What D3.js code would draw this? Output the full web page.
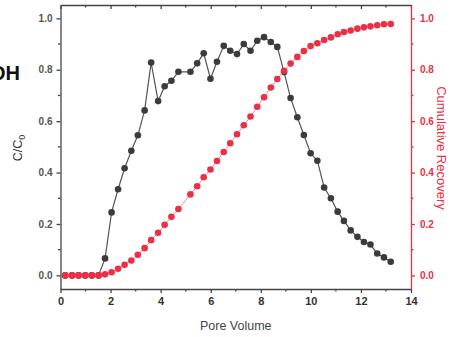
<!DOCTYPE html>
<html>
<head>
<meta charset="utf-8">
<script src="https://cdn.jsdelivr.net/npm/d3@7"></script>
<style>
  html, body { margin: 0; padding: 0; background: #fff; }
  svg { display: block; }
</style>
</head>
<body>
<script>
// Pore volumes at which samples were taken
const poreVolume = [0.19,0.46,0.72,0.99,1.25,1.52,1.78,2.04,2.30,2.56,2.83,3.09,3.36,3.62,3.90,4.16,4.43,4.71,5.19,5.46,5.72,5.99,6.25,6.52,6.78,7.05,7.32,7.59,7.86,8.13,8.40,8.66,8.93,9.19,9.46,9.72,9.99,10.26,10.53,10.80,11.07,11.32,11.59,11.86,12.12,12.38,12.65,12.92,13.19];
// Relative effluent concentration C/C0
const concentration = [0,0,0,0,0,0,0.066,0.245,0.335,0.417,0.485,0.545,0.642,0.828,0.678,0.736,0.757,0.792,0.792,0.825,0.864,0.765,0.831,0.893,0.874,0.861,0.900,0.874,0.913,0.927,0.908,0.889,0.791,0.690,0.615,0.546,0.475,0.446,0.342,0.300,0.248,0.212,0.175,0.150,0.130,0.120,0.085,0.070,0.053];
// Cumulative recovery
const recovery = [0,0,0,0,0,0,0.004,0.012,0.026,0.041,0.058,0.080,0.106,0.137,0.166,0.197,0.228,0.258,0.315,0.347,0.382,0.412,0.445,0.480,0.514,0.549,0.584,0.618,0.656,0.693,0.731,0.764,0.796,0.824,0.850,0.873,0.892,0.903,0.916,0.926,0.938,0.947,0.953,0.960,0.965,0.969,0.973,0.977,0.978];
const xTicks = [0,2,4,6,8,10,12,14];
const yTicks = [0.0,0.2,0.4,0.6,0.8,1.0];

const W = 455, H = 337;
const mLeft = 60.5, mRight = 411, mTop = 5, mBottom = 289;
const RED = "#ec2f45";
const AXIS = "#444";
const FONT = "Liberation Sans, Arial, sans-serif";

const svg = d3.select("body").append("svg").attr("width", W).attr("height", H);

const x = d3.scaleLinear().domain([0, 14]).range([mLeft, mRight]);
const y = d3.scaleLinear().domain([-0.053, 1.052]).range([mBottom, mTop]);

const fmt = d3.format(".1f");
const minorX = d3.range(1, 14, 2);
const minorY = d3.range(0.1, 1.0, 0.2);

// bottom axis
const gx = svg.append("g").attr("transform", `translate(0,${mBottom})`)
  .call(d3.axisBottom(x).tickValues(xTicks).tickSize(4).tickSizeOuter(0).tickPadding(4));
gx.append("g").selectAll("line").data(minorX).join("line")
  .attr("x1", d => x(d)).attr("x2", d => x(d)).attr("y1", 0).attr("y2", 2.5);
gx.selectAll("text").attr("font-size", 11).attr("font-weight", "bold").attr("fill", "#333");

// top axis (frame)
const gt = svg.append("g").attr("transform", `translate(0,${mTop})`)
  .call(d3.axisTop(x).tickValues(xTicks).tickSize(-4).tickSizeOuter(0).tickFormat(""));
gt.append("g").selectAll("line").data(minorX).join("line")
  .attr("x1", d => x(d)).attr("x2", d => x(d)).attr("y1", 0).attr("y2", 2.5);

// left axis
const gy = svg.append("g").attr("transform", `translate(${mLeft},0)`)
  .call(d3.axisLeft(y).tickValues(yTicks).tickFormat(fmt).tickSize(4).tickSizeOuter(0).tickPadding(4));
gy.append("g").selectAll("line").data(minorY).join("line")
  .attr("y1", d => y(d)).attr("y2", d => y(d)).attr("x1", 0).attr("x2", -2.5);
gy.selectAll("text").attr("font-size", 10).attr("font-weight", "bold").attr("fill", "#555");

// right axis (recovery)
const gr = svg.append("g").attr("transform", `translate(${mRight},0)`)
  .call(d3.axisRight(y).tickValues(yTicks).tickFormat(fmt).tickSize(4).tickSizeOuter(0).tickPadding(5));
gr.append("g").selectAll("line").data(minorY).join("line")
  .attr("y1", d => y(d)).attr("y2", d => y(d)).attr("x1", 0).attr("x2", 2.5);
gr.selectAll("text").attr("font-size", 10).attr("font-weight", "bold").attr("fill", RED);

[gx, gt, gy].forEach(g => {
  g.selectAll("path, line").attr("stroke", AXIS).attr("stroke-width", 1.3);
  g.attr("font-family", FONT);
});
gr.selectAll("path, line").attr("stroke", RED).attr("stroke-width", 1.3);
gr.attr("font-family", FONT);

// concentration series
const cData = poreVolume.map((p, i) => [p, concentration[i]]);
const rData = poreVolume.map((p, i) => [p, recovery[i]]);
const line = d3.line().x(d => x(d[0])).y(d => y(d[1]));

svg.append("path").datum(cData).attr("d", line)
  .attr("fill", "none").attr("stroke", "#555").attr("stroke-width", 1.2);
svg.append("g").selectAll("circle").data(cData).join("circle")
  .attr("cx", d => x(d[0])).attr("cy", d => y(d[1])).attr("r", 3.3)
  .attr("fill", "#3b3b3b");

// recovery series
svg.append("path").datum(rData).attr("d", line)
  .attr("fill", "none").attr("stroke", "#f08a96").attr("stroke-width", 1);
svg.append("g").selectAll("circle").data(rData).join("circle")
  .attr("cx", d => x(d[0])).attr("cy", d => y(d[1])).attr("r", 3.3)
  .attr("fill", RED);

// axis titles
svg.append("text").attr("x", (mLeft + mRight) / 2).attr("y", 330)
  .attr("text-anchor", "middle").attr("font-family", FONT)
  .attr("font-size", 12.5).attr("fill", "#444").text("Pore Volume");

const yl = svg.append("text").attr("transform", "translate(22,148) rotate(-90)")
  .attr("text-anchor", "middle").attr("font-family", FONT)
  .attr("font-size", 12.5).attr("fill", "#333");
yl.append("tspan").text("C/C");
yl.append("tspan").attr("font-size", 9).attr("dy", 3).text("0");

svg.append("text").attr("transform", "translate(437,148) rotate(90)")
  .attr("text-anchor", "middle").attr("font-family", FONT)
  .attr("font-size", 13).attr("fill", RED).text("Cumulative Recovery");

// series tag at left edge
svg.append("text").attr("x", 20).attr("y", 80).attr("text-anchor", "end")
  .attr("font-family", FONT).attr("font-weight", "bold")
  .attr("font-size", 20).attr("fill", "#111").text("OH");
</script>
</body>
</html>
